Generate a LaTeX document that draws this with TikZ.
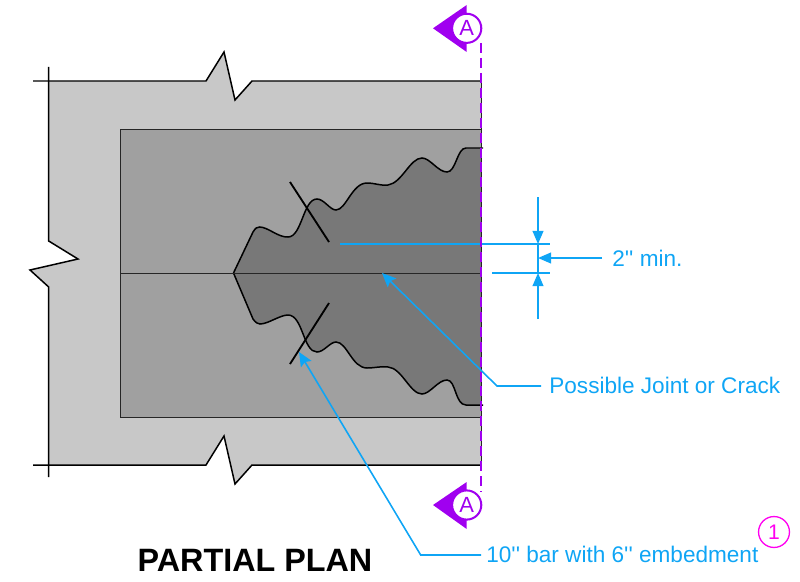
\documentclass[tikz,border=0pt]{standalone}
\usepackage{fontspec}
\setmainfont{Liberation Sans}
\newfontfamily\plainfont{Liberation Sans}
\usetikzlibrary{arrows.meta}

\definecolor{slabgray}{HTML}{C8C8C8}
\definecolor{panelgray}{HTML}{A0A0A0}
\definecolor{crackgray}{HTML}{787878}
\definecolor{notecolor}{HTML}{0FA5F5}
\definecolor{cutcolor}{HTML}{A000F0}
\definecolor{revcolor}{HTML}{FF00F0}

\tikzset{
	edgeline/.style={black, line width=0.85pt},
	thinline/.style={black!85, line width=0.55pt},
	barline/.style={black, line width=1.05pt},
	noteline/.style={notecolor, line width=0.9pt},
	notearrow/.style={noteline, -{Stealth[length=8pt, width=7pt, inset=1.4pt]}},
	dimarrow/.style={noteline, -{Triangle[length=7.5pt, width=6.2pt]}},
	notetext/.style={notecolor, anchor=base west, inner sep=0pt, font=\plainfont\fontsize{12.85}{14}\selectfont},
	cutline/.style={cutcolor, line width=0.95pt, dash pattern=on 5.67pt off 2.83pt},
	cutletter/.style={circle, draw=cutcolor, fill=white, line width=1.15pt, minimum size=16.6pt, inner sep=0pt, text=cutcolor, font=\plainfont\fontsize{12.5}{13}\selectfont},
	cutflag/.style={fill=cutcolor},
}

\def\crackupper{(233.5,273) -- (253,232) .. controls (255.5,228) and (257,227) .. (259.5,227) .. controls (268,227) and (278,237.5) .. (288,237) .. controls (302,237) and (303,199) .. (317,199) .. controls (324,199) and (330,210) .. (336,210) .. controls (346,210) and (352,183) .. (367,183) .. controls (375,183) and (381,186) .. (388,185) .. controls (402,183) and (410,158) .. (422,158) .. controls (430,158) and (438,172) .. (447,172) .. controls (456,172) and (457,148) .. (466,148)}
\def\cracklower{(233.5,273) -- (253,319) .. controls (256,323) and (258,324) .. (260,324) .. controls (268,324) and (280,315) .. (288,315) .. controls (303,315) and (303,352) .. (317,352) .. controls (324,352) and (330,342) .. (336,342) .. controls (347,342) and (352,368) .. (367,368) .. controls (375,368) and (381,366) .. (388,367) .. controls (402,368) and (410,394) .. (422,394) .. controls (430,394) and (438,380) .. (447,380) .. controls (456,380) and (455,405) .. (466,405)}

\begin{document}
\begin{tikzpicture}[x=0.02cm, y=-0.02cm]
	\useasboundingbox (0,0) rectangle (800,581);
	% slab with its broken edges
	\fill[slabgray] (48.7,81) -- (206,81) -- (224,52) -- (235,100) -- (252,81) -- (481,81) -- (481,465) -- (252,465) -- (235,484) -- (224,436) -- (206,465) -- (48.7,465) -- (48.7,287) -- (30,270) -- (78,259) -- (48.7,241) -- cycle;
	\draw[edgeline] (33,81) -- (206,81) -- (224,52) -- (235,100) -- (252,81) -- (481,81);
	\draw[edgeline] (33,465) -- (206,465) -- (224,436) -- (235,484) -- (252,465) -- (481,465);
	\draw[edgeline] (48.7,67) -- (48.7,241) -- (78,259) -- (30,270) -- (48.7,287) -- (48.7,477);
	\draw[thinline] (481,81) -- (481,465);
	% panel
	\draw[thinline, fill=panelgray] (120.5,129) rectangle (481,417);
	% cracked zone
	\fill[crackgray] \crackupper -- (481,148) -- (481,273.5) -- cycle;
	\fill[crackgray] \cracklower -- (481,405) -- (481,272.5) -- cycle;
	\draw[edgeline] \crackupper -- (483,148);
	\draw[edgeline] \cracklower -- (483,405);
	\draw[thinline] (120.5,273) -- (481,273);
	\draw[thinline] (481,129) -- (481,417);
	% bars
	\draw[barline] (290,182) -- (329,242);
	\draw[barline] (329,303) -- (290,364);
	% dimension
	\coordinate (dimtop) at (538,197);
	\coordinate (dimbot) at (538,319);
	\coordinate (upperA) at (340,244);
	\coordinate (upperB) at (550,244);
	\coordinate (lowerA) at (492,273);
	\coordinate (lowerB) at (550,273);
	\draw[noteline] (upperA) -- (upperB);
	\draw[noteline] (lowerA) -- (lowerB);
	\draw[noteline] (538,244) -- (538,273);
	\draw[dimarrow] (dimtop) -- (538,244);
	\draw[dimarrow] (dimbot) -- (538,273);
	\node[notetext] (minlabel) at (612,266.7) {2'' min.};
	\coordinate (minend) at (602,258);
	\draw[dimarrow] (minend) -- (538,258);
	% leaders
	\node[notetext] (jointlabel) at (549,393.5) {Possible Joint or Crack};
	\coordinate (jointtip) at (382,273);
	\coordinate (jointend) at (541,386);
	\coordinate (jointknee) at (497,386);
	\draw[notearrow] (jointend) -- (jointknee) -- (jointtip);
	\node[notetext] (barlabel) at (486,562.7) {10'' bar with 6'' embedment};
	\coordinate (bartip) at (299,352);
	\coordinate (barend) at (481,555);
	\coordinate (barknee) at (420.7,555);
	\draw[notearrow] (barend) -- (barknee) -- (bartip);
	% section marks
	\draw[cutline] (481,43) -- (481,492);
	\fill[cutflag] (433,28.3) -- (466.7,5) -- (466.7,52) -- cycle;
	\node[cutletter] (cuttop) at (466.7,28.3) {A};
	\fill[cutflag] (433,505) -- (466.7,482) -- (466.7,529) -- cycle;
	\node[cutletter] (cutbot) at (466.7,505) {A};
	% revision tag and title
	\node[circle, draw=revcolor, line width=0.75pt, minimum size=17.6pt, inner sep=0pt, text=revcolor, font=\plainfont\fontsize{12}{13}\selectfont] (revtag) at (774,532) {1};
	\node[anchor=base, inner sep=0pt, font=\plainfont\fontsize{18.4}{20}\selectfont\bfseries] (title) at (255,571) {PARTIAL PLAN};
\end{tikzpicture}
\end{document}
